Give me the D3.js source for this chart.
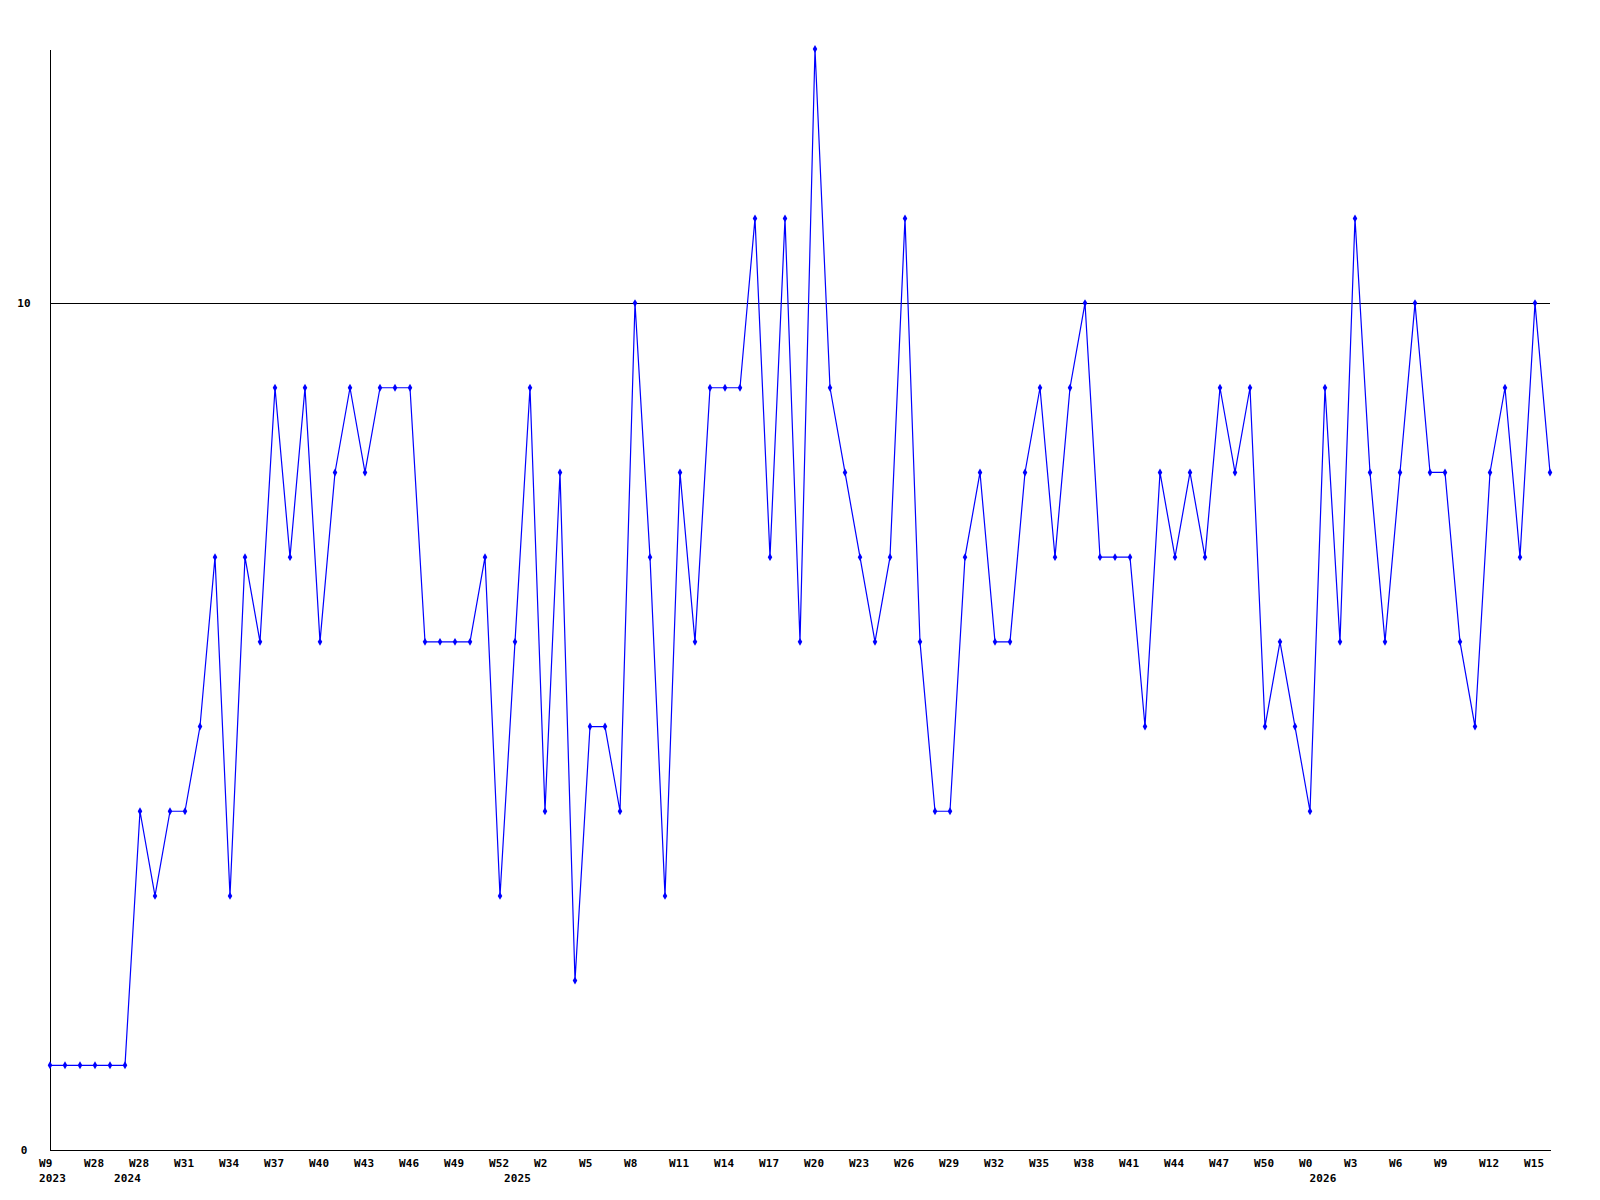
<!DOCTYPE html>
<html>
<head>
<meta charset="utf-8">
<script src="https://cdn.jsdelivr.net/npm/d3@7"></script>
<style>
  body { margin: 0; background: #fff; }
  text { font-family: "DejaVu Sans Mono", monospace; font-size: 11px; font-weight: bold; letter-spacing: 0.1px; fill: #000; }
</style>
</head>
<body>
<div id="lineChart"></div>
<script>
// weekly counts, one per point
var counts = [1,1,1,1,1,1,4,3,4,4,
              5,7,3,7,6,9,7,9,6,8,
              9,8,9,9,9,6,6,6,6,7,
              3,6,9,4,8,2,5,5,4,10,
              7,3,8,6,9,9,9,11,7,11,
              6,13,9,8,7,6,7,11,6,4,
              4,7,8,6,6,8,9,7,9,10,
              7,7,7,5,8,7,8,7,9,8,
              9,5,6,5,4,9,6,11,8,6,
              8,10,8,8,6,5,8,9,7,10,
              8];

// a week label on every third point
var weekLabels = ["W9","W28","W28","W31","W34","W37","W40","W43","W46","W49","W52",
                  "W2","W5","W8","W11","W14","W17","W20","W23","W26","W29","W32",
                  "W35","W38","W41","W44","W47","W50","W0","W3","W6","W9","W12","W15"];

var years = ["2023","2024","2025","2026"];
var yearAt = [0, 5, 31, 84.7];

var yTicks = [0, 10];

var margin = {top: 49, right: 50, bottom: 50, left: 50},
    width = 1600 - margin.left - margin.right,
    height = 1200 - margin.top - margin.bottom;

var svg = d3.select("#lineChart")
  .append("svg")
    .attr("width", 1600)
    .attr("height", 1200)
  .append("g")
    .attr("transform", "translate(" + margin.left + "," + margin.top + ")");

var x = d3.scaleLinear()
  .domain([0, counts.length - 1])
  .range([0, width]);

var y = d3.scaleLinear()
  .domain([0, 13])
  .range([height, 0]);

// gridline at 10
svg.append("g")
  .selectAll("line")
  .data(yTicks.filter(function(d){ return d > 0; }))
  .enter()
  .append("line")
    .attr("x1", 0)
    .attr("x2", width)
    .attr("y1", function(d){ return y(d); })
    .attr("y2", function(d){ return y(d); })
    .style("stroke", "black")
    .style("shape-rendering", "crispEdges");

// y axis
var yAxis = svg.append("g")
  .call(d3.axisLeft(y).tickValues(yTicks).tickSize(0).tickPadding(0).tickFormat(d3.format("d")));
yAxis.attr("font-family", null).attr("font-size", null);
yAxis.select(".domain").style("stroke", "black").style("shape-rendering", "crispEdges");
yAxis.selectAll("text")
  .attr("x", -26)
  .attr("dy", "0.35em")
  .attr("text-anchor", "middle");

// x axis line
var xAxis = svg.append("g")
  .attr("transform", "translate(0," + height + ")")
  .call(d3.axisBottom(x).tickValues([]).tickSizeOuter(0));
xAxis.select(".domain").style("stroke", "black").style("shape-rendering", "crispEdges");

// week labels
svg.append("g")
  .selectAll("text")
  .data(weekLabels)
  .enter()
  .append("text")
    .text(function(d){ return d; })
    .attr("x", function(d, i){ return x(i * 3) - 11; })
    .attr("y", height + 17);

// year labels
svg.append("g")
  .selectAll("text")
  .data(years)
  .enter()
  .append("text")
    .text(function(d){ return d; })
    .attr("x", function(d, i){ return x(yearAt[i]) - 11; })
    .attr("y", height + 32);

// series
var line = d3.line()
  .x(function(d, i){ return x(i); })
  .y(function(d){ return y(d); });

svg.append("path")
  .datum(counts)
  .attr("d", line)
  .style("fill", "none")
  .style("stroke", "blue")
  .style("stroke-width", 1.2);

svg.append("g")
  .selectAll("path")
  .data(counts)
  .enter()
  .append("path")
    .attr("transform", function(d, i){ return "translate(" + x(i) + "," + y(d) + ")"; })
    .attr("d", d3.symbol().type(d3.symbolDiamond).size(18))
    .style("fill", "blue");
</script>
</body>
</html>
